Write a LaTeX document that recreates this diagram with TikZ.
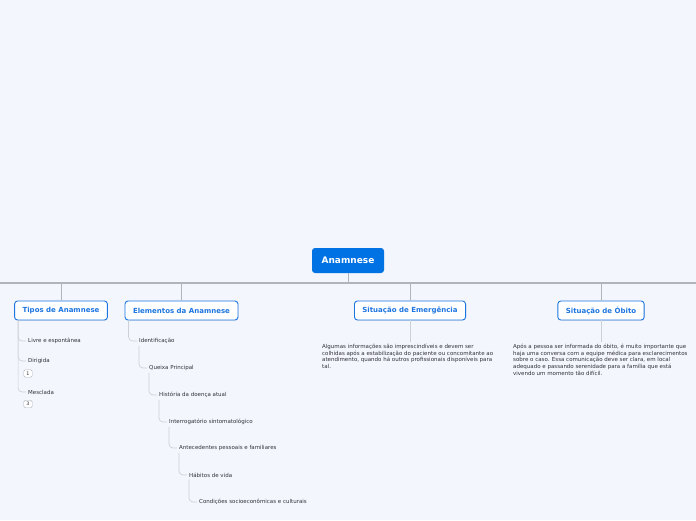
\documentclass[tikz,border=0pt]{standalone}
\usepackage{fontspec}
\setmainfont{DejaVu Sans}
\usepackage{tikz}
\usetikzlibrary{positioning, arrows.meta, shadows}
\definecolor{MMBack}{RGB}{243,246,253}
\definecolor{MMBlue}{RGB}{0,114,228}
\definecolor{MMEdge}{RGB}{28,117,224}
\definecolor{MMLine}{RGB}{176,180,188}
\definecolor{MMSub}{RGB}{204,208,216}
\definecolor{MMText}{RGB}{50,50,55}

\begin{document}
\begin{tikzpicture}[x=1pt, y=-1pt,
          rootbox/.style={rectangle, rounded corners=3pt, fill=MMBlue, text=white,
                          minimum width=72pt, minimum height=25pt,
                          font=\fontsize{9}{10}\selectfont\bfseries},
          topic/.style={rectangle, rounded corners=3pt, draw=MMEdge, line width=0.9pt,
                        fill=white, text=MMEdge, minimum height=19pt, inner xsep=8pt,
                        font=\fontsize{7}{8}\selectfont\bfseries,
                        drop shadow={shadow xshift=0.5pt, shadow yshift=-0.8pt, opacity=0.15}},
          leaf/.style={anchor=west, inner sep=2pt, text=MMText,
                       font=\fontsize{5.5}{6.5}\selectfont},
          note/.style={anchor=north west, inner sep=2pt, text=MMText, align=left,
                       font=\fontsize{5.5}{6.6}\selectfont},
          badge/.style={rectangle, rounded corners=1.5pt, draw=MMLine, line width=0.4pt,
                        fill=white, minimum width=8.5pt, minimum height=7.5pt, inner sep=0pt,
                        text=MMText, font=\fontsize{4.8}{5}\selectfont},
          trunk/.style={draw=MMLine, line width=1.4pt},
          branch/.style={draw=MMLine, line width=0.8pt},
          twig/.style={draw=MMSub, line width=0.7pt, rounded corners=4pt}
        ]
        \fill[MMBack] (0,0) rectangle (696,520);
        \useasboundingbox (0,0) rectangle (696,520);

        % central topic and main bar
        \node[rootbox] (root) at (348, 260.5) {Anamnese};
        \coordinate (barL) at (0, 283);
        \coordinate (barR) at (696, 283);

        % main topics
        \node[topic] (tipos)  at (61, 310.5)    {Tipos de Anamnese};
        \node[topic] (elem)   at (181.5, 310.5) {Elementos da Anamnese};
        \node[topic] (emerg)  at (410, 310.5)   {Situação de Emergência};
        \node[topic] (obito)  at (601, 310.5)   {Situação de Óbito};

        \draw[trunk] (barL) -- (barR);
        \draw[branch] (root.south) -- (root.south |- barL);
        \foreach \t in {tipos, elem, emerg, obito}
          \draw[branch] (\t.north |- barL) -- (\t.north);

        % tipos de anamnese
        \node[leaf] (livre)    at (26, 341) {Livre e espontânea};
        \node[leaf] (dirigida) at (26, 361) {Dirigida};
        \node[badge] (num1)    at (28, 373.5) {1};
        \node[leaf] (mesclada) at (26, 392) {Mesclada};
        \node[badge] (num3)    at (28, 404) {3};

        \foreach \c in {livre, dirigida, mesclada}
          \draw[twig] ([xshift=4pt]tipos.south west) |- (\c.west);

        % elementos da anamnese
        \node[leaf] (ident)   at (137, 341) {Identificação};
        \node[leaf] (queixa)  at (147, 368) {Queixa Principal};
        \node[leaf] (hist)    at (157, 395) {História da doença atual};
        \node[leaf] (interr)  at (167, 422) {Interrogatório sintomatológico};
        \node[leaf] (antec)   at (177, 448) {Antecedentes pessoais e familiares};
        \node[leaf] (habitos) at (187, 475) {Hábitos de vida};
        \node[leaf] (cond)    at (197, 502) {Condições socioeconômicas e culturais};

        \draw[twig] ([xshift=4pt]elem.south west) |- (ident.west);
        \draw[twig] ([xshift=2pt]ident.south west) |- (queixa.west);
        \draw[twig] ([xshift=2pt]queixa.south west) |- (hist.west);
        \draw[twig] ([xshift=2pt]hist.south west) |- (interr.west);
        \draw[twig] ([xshift=2pt]interr.south west) |- (antec.west);
        \draw[twig] ([xshift=2pt]antec.south west) |- (habitos.west);
        \draw[twig] ([xshift=2pt]habitos.south west) |- (cond.west);

        % situacoes
        \node[note] (emergtxt) at (320, 342)
              {Algumas informações são imprescindíveis e devem ser\\
               colhidas após a estabilização do paciente ou concomitante ao\\
               atendimento, quando há outros profissionais disponíveis para\\
               tal.};
        \node[note] (obitotxt) at (511, 342)
              {Após a pessoa ser informada do óbito, é muito importante que\\
               haja uma conversa com a equipe médica para esclarecimentos\\
               sobre o caso. Essa comunicação deve ser clara, em local\\
               adequado e passando serenidade para a família que está\\
               vivendo um momento tão difícil.};

        \draw[twig] (emerg.south) -- (emerg.south |- emergtxt.north);
        \draw[twig] (obito.south) -- (obito.south |- obitotxt.north);
      \end{tikzpicture}
\end{document}
